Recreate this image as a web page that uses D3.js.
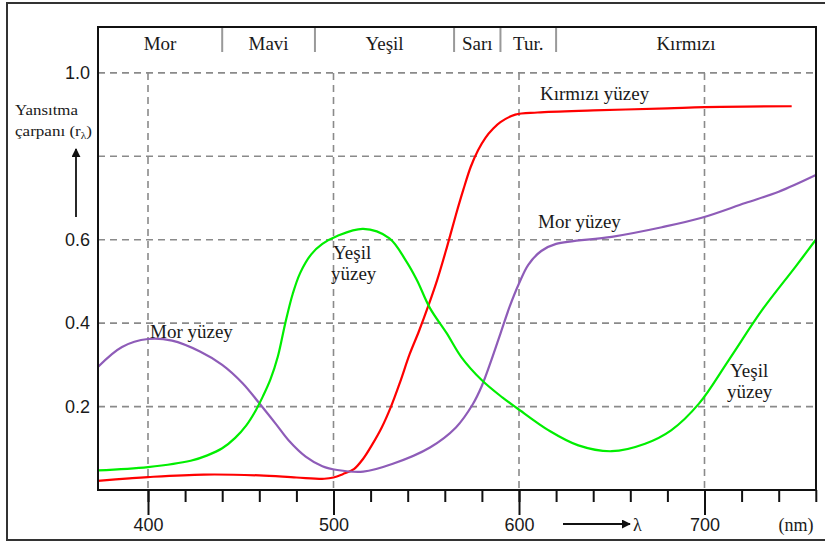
<!DOCTYPE html>
<html>
<head>
<meta charset="utf-8">
<script src="https://cdn.jsdelivr.net/npm/d3@7"></script>
<style>
  html, body { margin: 0; padding: 0; background: #fff; }
  svg { display: block; }
</style>
</head>
<body>
<svg id="chart" width="825" height="543"></svg>
<script>
// ---------------- DATA ----------------
const bandNames = ["Mor", "Mavi", "Yeşil", "Sarı", "Tur.", "Kırmızı"];
const bandEdges = [373, 440, 490, 565, 590, 620, 760];

const xMajorTicks = [400, 500, 600, 700];
const xMinorTicks = [400, 420, 440, 460, 480, 500, 520, 540, 560, 580, 600, 620, 640, 660, 680, 700, 720, 740, 760];
const yGridValues = [0.2, 0.4, 0.6, 0.8, 1.0];
const yTickLabels = [0.2, 0.4, 0.6, 1.0];

// Kırmızı yüzey (red surface)
const redWave = [373, 390, 400, 430, 460, 480, 495, 500, 505, 511, 516, 521, 526, 531, 536, 541, 546, 551, 556, 561, 566, 570, 574, 578, 582, 586, 590, 598, 610, 640, 680, 700, 747];
const redRefl = [0.022, 0.028, 0.031, 0.037, 0.035, 0.030, 0.027, 0.030, 0.038, 0.050, 0.075, 0.110, 0.150, 0.200, 0.260, 0.325, 0.380, 0.440, 0.505, 0.580, 0.660, 0.720, 0.775, 0.815, 0.845, 0.866, 0.882, 0.900, 0.905, 0.910, 0.915, 0.918, 0.920];

// Mor yüzey (violet surface)
const violetWave = [373, 386, 400, 413, 428, 440, 451, 460, 469, 476, 485, 494, 502, 516, 532, 552, 566, 575, 580, 585, 590, 595, 600, 605, 612, 620, 650, 677, 698, 722, 740, 760];
const violetRefl = [0.295, 0.343, 0.362, 0.358, 0.332, 0.300, 0.256, 0.208, 0.158, 0.118, 0.080, 0.057, 0.048, 0.044, 0.063, 0.102, 0.150, 0.205, 0.250, 0.310, 0.375, 0.440, 0.495, 0.540, 0.573, 0.590, 0.607, 0.630, 0.652, 0.688, 0.715, 0.755];

// Yeşil yüzey (green surface)
const greenWave = [373, 400, 423, 432, 440, 447, 453, 458, 462, 466, 470, 474, 478, 482, 488, 494, 502, 516, 530, 539, 545, 552, 561, 569, 580, 591, 599, 616, 632, 650, 668, 682, 697, 713, 731, 749, 760];
const greenRefl = [0.047, 0.055, 0.070, 0.083, 0.100, 0.125, 0.155, 0.190, 0.225, 0.265, 0.320, 0.400, 0.470, 0.520, 0.565, 0.590, 0.609, 0.626, 0.604, 0.550, 0.503, 0.436, 0.376, 0.318, 0.263, 0.222, 0.196, 0.143, 0.107, 0.093, 0.111, 0.143, 0.207, 0.311, 0.431, 0.535, 0.600];

const seriesNames = ["Kırmızı yüzey", "Mor yüzey", "Yeşil yüzey"];
const seriesColors = ["#ff0000", "#8e5cb8", "#00ee00"];

// ---------------- LAYOUT ----------------
const svg = d3.select("#chart");
const W = 825, H = 543;
const plotLeft = 98, plotRight = 816, plotTop = 27, plotBottom = 490, bandBottom = 52;

const x = d3.scaleLinear().domain([400, 700]).range([148, 704.5]);
const y = d3.scaleLinear().domain([0, 1.11]).range([plotBottom, plotTop]);

const serif = "'Liberation Serif', 'Times New Roman', serif";
const sans = "'Liberation Sans', Arial, sans-serif";
const textColor = "#1a1a1a";

svg.append("rect").attr("width", W).attr("height", H).attr("fill", "#fff");

// outer frame
svg.append("rect")
  .attr("x", 7).attr("y", 3).attr("width", 840).attr("height", 537)
  .attr("fill", "none").attr("stroke", "#333").attr("stroke-width", 2);

// gridlines
const grid = svg.append("g").attr("stroke", "#8a8a8a").attr("stroke-width", 1.6)
  .attr("stroke-dasharray", "7,5").attr("fill", "none");
grid.selectAll("line.h").data(yGridValues).join("line").attr("class", "h")
  .attr("x1", plotLeft).attr("x2", plotRight)
  .attr("y1", d => y(d)).attr("y2", d => y(d));
grid.selectAll("line.v").data(xMajorTicks).join("line").attr("class", "v")
  .attr("x1", d => x(d)).attr("x2", d => x(d))
  .attr("y1", y(1.0)).attr("y2", plotBottom);

// color band separators
svg.append("g").selectAll("line").data(bandEdges.slice(1, -1)).join("line")
  .attr("x1", d => x(d)).attr("x2", d => x(d))
  .attr("y1", plotTop).attr("y2", bandBottom)
  .attr("stroke", "#999").attr("stroke-width", 2);

svg.append("g").selectAll("text").data(bandNames).join("text")
  .attr("x", (d, i) => (x(bandEdges[i]) + x(bandEdges[i + 1])) / 2)
  .attr("y", 50)
  .attr("text-anchor", "middle")
  .attr("font-family", serif).attr("font-size", 19).attr("fill", textColor)
  .text(d => d);

// curves
const allSeries = [
  { wave: redWave, refl: redRefl },
  { wave: violetWave, refl: violetRefl },
  { wave: greenWave, refl: greenRefl }
];
const line = d3.line().x(d => x(d[0])).y(d => y(d[1])).curve(d3.curveCatmullRom.alpha(0.5));
svg.append("g").selectAll("path").data(allSeries).join("path")
  .attr("d", s => line(s.wave.map((w, i) => [w, s.refl[i]])))
  .attr("fill", "none")
  .attr("stroke", (s, i) => seriesColors[i])
  .attr("stroke-width", 2.2)
  .attr("stroke-linejoin", "round");

// plot box
svg.append("rect")
  .attr("x", plotLeft).attr("y", plotTop)
  .attr("width", plotRight - plotLeft).attr("height", plotBottom - plotTop)
  .attr("fill", "none").attr("stroke", "#111").attr("stroke-width", 2);

// x axis: minor ticks
const minorAxis = svg.append("g").attr("transform", `translate(0,${plotBottom})`)
  .call(d3.axisBottom(x).tickValues(xMinorTicks).tickSize(12).tickFormat(""));
minorAxis.select(".domain").remove();
minorAxis.selectAll(".tick line").attr("stroke", "#111").attr("stroke-width", 2);

// x axis: major ticks with labels
const majorAxis = svg.append("g").attr("transform", `translate(0,${plotBottom})`)
  .call(d3.axisBottom(x).tickValues(xMajorTicks).tickSize(25).tickFormat(d3.format("d")));
majorAxis.select(".domain").remove();
majorAxis.selectAll(".tick line").attr("stroke", "#111").attr("stroke-width", 2);
majorAxis.selectAll(".tick text")
  .attr("y", 35).attr("dy", "0.35em")
  .attr("font-family", sans).attr("font-size", 18).attr("fill", textColor);

// y axis labels
const yAxis = svg.append("g").attr("transform", `translate(${plotLeft},0)`)
  .call(d3.axisLeft(y).tickValues(yTickLabels).tickSize(0).tickPadding(8).tickFormat(d3.format(".1f")));
yAxis.select(".domain").remove();
yAxis.selectAll(".tick text")
  .attr("font-family", sans).attr("font-size", 18).attr("fill", textColor);

// defs for arrowheads
const defs = svg.append("defs");
defs.append("marker").attr("id", "arr")
  .attr("viewBox", "0 0 10 10").attr("refX", 9).attr("refY", 5)
  .attr("markerWidth", 5).attr("markerHeight", 5).attr("orient", "auto")
  .append("path").attr("d", "M0,0 L10,5 L0,10 z").attr("fill", "#111");

// y axis title
const yt = svg.append("g").attr("font-family", serif).attr("font-size", 15).attr("fill", textColor);
yt.append("text").attr("x", 15).attr("y", 115).attr("textLength", 63).attr("lengthAdjust", "spacingAndGlyphs").text("Yansıtma");
const t2 = yt.append("text").attr("x", 15).attr("y", 136).attr("textLength", 77).attr("lengthAdjust", "spacingAndGlyphs");
t2.append("tspan").text("çarpanı (r");
t2.append("tspan").attr("font-size", 10).attr("dy", 3).text("λ");
t2.append("tspan").attr("dy", -3).text(")");

svg.append("line").attr("x1", 76).attr("x2", 76).attr("y1", 217).attr("y2", 149)
  .attr("stroke", "#111").attr("stroke-width", 1.8).attr("marker-end", "url(#arr)");

// lambda arrow and unit
svg.append("line").attr("x1", 563).attr("x2", 630).attr("y1", 524).attr("y2", 524)
  .attr("stroke", "#111").attr("stroke-width", 1.8).attr("marker-end", "url(#arr)");
svg.append("text").attr("x", 633).attr("y", 531)
  .attr("font-family", serif).attr("font-size", 18).attr("fill", textColor).text("λ");
svg.append("text").attr("x", 796).attr("y", 531).attr("text-anchor", "middle")
  .attr("font-family", serif).attr("font-size", 18).attr("fill", textColor).text("(nm)");

// curve labels
const lab = svg.append("g").attr("font-family", serif).attr("font-size", 19).attr("fill", textColor);
lab.append("text").attr("x", 540).attr("y", 100).text(seriesNames[0]);
lab.append("text").attr("x", 150).attr("y", 338).text(seriesNames[1]);
lab.append("text").attr("x", 538).attr("y", 228).text(seriesNames[1]);
const gParts = seriesNames[2].split(" ");
lab.append("text").attr("x", 333).attr("y", 259).text(gParts[0]);
lab.append("text").attr("x", 331).attr("y", 280).text(gParts[1]);
lab.append("text").attr("x", 730).attr("y", 377).text(gParts[0]);
lab.append("text").attr("x", 727).attr("y", 398).text(gParts[1]);
</script>
</body>
</html>
